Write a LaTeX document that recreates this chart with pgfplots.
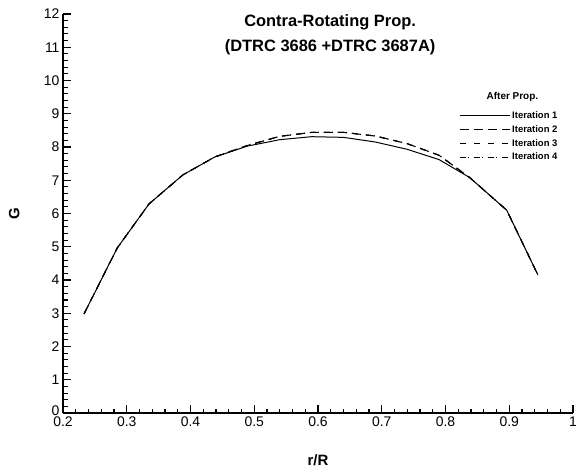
\documentclass[border=0pt]{standalone}
\usepackage{pgfplots}
\pgfplotsset{compat=1.18}
\usepackage{fontspec}
\setmainfont{Liberation Sans}
\begin{document}
\begin{tikzpicture}
\begin{axis}[
  scale only axis, width=510bp, height=399bp,
  xmin=0.2, xmax=1, ymin=0, ymax=12,
  axis x line=bottom, axis y line=left,
  axis line style={-, line width=1.4pt},
  xtick={0.2,0.3,...,1.0}, ytick={0,1,...,12},
  xticklabels={0.2,0.3,0.4,0.5,0.6,0.7,0.8,0.9,1},
  yticklabels={\raisebox{4bp}{0},1,2,3,4,5,6,7,8,9,10,11,12},
  minor x tick num=4, minor y tick num=4,
  tick align=inside,
  major tick length=8bp, minor tick length=4.5bp,
  tick style={line width=1.1pt, black},
  /pgf/number format/assume math mode=true,
  tick label style={font=\fontsize{14}{15}\selectfont},
  xlabel={\bfseries r/R}, ylabel={\bfseries G},
  label style={font=\fontsize{15}{16}\selectfont},
  xlabel style={at={(axis description cs:0.5,0)}, anchor=north, yshift=-38bp},
  ylabel style={at={(axis description cs:0,0.5)}, anchor=south, yshift=40bp},
  clip=false,
  legend image code/.code={\draw[#1] (0bp,0bp) -- (50bp,0bp);},
  legend style={draw=none, fill=none, at={(axis cs:0.822,9.12)}, anchor=north west,
     font=\fontsize{9.5}{10}\selectfont\bfseries, row sep=2.5bp, inner sep=0pt,
     nodes={inner sep=1.5bp}},
  legend cell align=left,
]
\addplot[black, line width=1pt] coordinates {
(0.233,2.98) (0.285,4.96) (0.335,6.29) (0.388,7.16) (0.438,7.70) (0.49,8.03)
(0.54,8.22) (0.59,8.31) (0.64,8.29) (0.69,8.15) (0.74,7.93) (0.79,7.62)
(0.838,7.08) (0.896,6.10) (0.945,4.15)};
\addlegendentry{Iteration 1}
\addplot[black, line width=1pt, dash pattern=on 9bp off 5bp] coordinates {
(0.233,2.98) (0.285,4.96) (0.335,6.29) (0.388,7.16) (0.438,7.70) (0.49,8.05)
(0.54,8.32) (0.59,8.44) (0.64,8.44) (0.69,8.33) (0.74,8.10) (0.79,7.75)
(0.838,7.08) (0.896,6.10) (0.945,4.15)};
\addlegendentry{Iteration 2}
\addplot[black, line width=1pt, dash pattern=on 6bp off 8bp] coordinates {
(0.233,2.98) (0.285,4.96) (0.335,6.29) (0.388,7.16) (0.438,7.70) (0.49,8.05)
(0.54,8.32) (0.59,8.44) (0.64,8.44) (0.69,8.33) (0.74,8.10) (0.79,7.75)
(0.838,7.08) (0.896,6.10) (0.945,4.15)};
\addlegendentry{Iteration 3}
\addplot[black, line width=1pt, dash pattern=on 6bp off 2bp on 1bp off 5bp] coordinates {
(0.233,2.98) (0.285,4.96) (0.335,6.29) (0.388,7.16) (0.438,7.70) (0.49,8.05)
(0.54,8.32) (0.59,8.44) (0.64,8.44) (0.69,8.33) (0.74,8.10) (0.79,7.75)
(0.838,7.08) (0.896,6.10) (0.945,4.15)};
\addlegendentry{Iteration 4}
\node[font=\fontsize{16.5}{17}\selectfont\bfseries] at (axis cs:0.619,11.76) {Contra-Rotating Prop.};
\node[font=\fontsize{16.5}{17}\selectfont\bfseries] at (axis cs:0.619,11.0) {(DTRC 3686 +DTRC 3687A)};
\node[font=\fontsize{10}{11}\selectfont\bfseries] at (axis cs:0.905,9.52) {After Prop.};
\end{axis}
\pgfresetboundingbox
\path (current axis.south west) ++(-63bp,-59bp) rectangle ([xshift=6bp,yshift=14bp]current axis.north east);
\end{tikzpicture}
\end{document}
